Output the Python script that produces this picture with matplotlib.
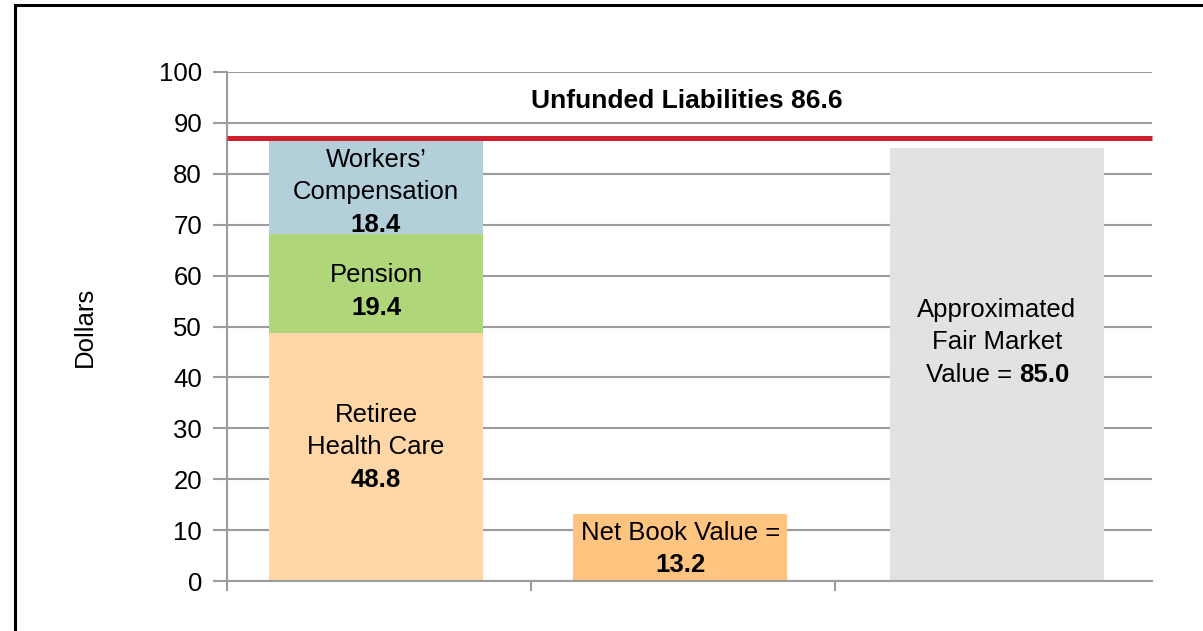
import matplotlib.pyplot as plt
import matplotlib.patches as mpatches
import matplotlib.transforms as mtransforms

plt.rcParams['font.family'] = ['Liberation Sans', 'DejaVu Sans']

# data
retiree = 48.8
pension = 19.4
workers = 18.4
net_book = 13.2
fair_market = 85.0
unfunded = retiree + pension + workers  # 86.6
yticks = [0, 10, 20, 30, 40, 50, 60, 70, 80, 90, 100]

c_retiree = '#FFD7A6'
c_pension = '#B0D67A'
c_workers = '#B3CFDA'
c_netbook = '#FFC480'
c_fair = '#E1E2E4'
c_red = '#D0202E'
c_grid = '#9C9C9F'

fig = plt.figure(figsize=(12.03, 6.31), dpi=100)
ax = fig.add_axes([0.1887, 0.0792, 0.7689, 0.8067])

w = 0.69
ax.bar(0, retiree, w, color=c_retiree, zorder=2)
ax.bar(0, pension, w, bottom=retiree, color=c_pension, zorder=2)
ax.bar(0, workers, w, bottom=retiree + pension, color=c_workers, zorder=2)
ax.bar(0.98, net_book, w, color=c_netbook, zorder=2)
ax.bar(2, fair_market, w, color=c_fair, zorder=2)

ax.set_xlim(-0.48, 2.5)
ax.set_ylim(0, 100)
# red line sits right on top of the stacked bar
up = mtransforms.offset_copy(ax.transData, fig=fig, x=0, y=2.5, units='dots')
ax.plot([-0.48, 2.5], [unfunded, unfunded], color=c_red, lw=3.6, zorder=3,
        transform=up, solid_capstyle='butt', clip_on=False)

ax.set_yticks(yticks)
ax.set_xticks([-0.48, 0.5, 1.48])
ax.set_xticklabels([])
ax.yaxis.grid(True, color=c_grid, lw=1.5, zorder=0)
ax.set_axisbelow(True)
ax.tick_params(axis='y', length=10, width=1.5, color=c_grid, labelsize=18.5, pad=8)
ax.tick_params(axis='x', length=7, width=1.5, color=c_grid)
for s in ['top', 'right']:
    ax.spines[s].set_visible(False)
ax.spines['left'].set_color(c_grid)
ax.spines['left'].set_linewidth(1.5)
ax.spines['bottom'].set_color(c_grid)
ax.spines['bottom'].set_linewidth(1.5)

ax.set_ylabel('Dollars', fontsize=18.5, labelpad=45)

fs = 18.5
ax.text(0, 82.7, "Workers\u2019", ha='center', va='center', fontsize=fs, zorder=4)
ax.text(0, 76.4, 'Compensation', ha='center', va='center', fontsize=fs, zorder=4)
ax.text(0, 69.9, f'{workers:.1f}', ha='center', va='center', fontsize=fs, fontweight='bold', zorder=4)
ax.text(0, 60.1, 'Pension', ha='center', va='center', fontsize=fs, zorder=4)
ax.text(0, 53.6, f'{pension:.1f}', ha='center', va='center', fontsize=fs, fontweight='bold', zorder=4)
ax.text(0, 32.6, 'Retiree', ha='center', va='center', fontsize=fs, zorder=4)
ax.text(0, 26.3, 'Health Care', ha='center', va='center', fontsize=fs, zorder=4)
ax.text(0, 19.8, f'{retiree:.1f}', ha='center', va='center', fontsize=fs, fontweight='bold', zorder=4)

ax.text(0.98, 9.4, 'Net Book Value =', ha='center', va='center', fontsize=fs, zorder=4)
ax.text(0.98, 3.1, f'{net_book:.1f}', ha='center', va='center', fontsize=fs, fontweight='bold', zorder=4)

ax.text(2, 53.2, 'Approximated', ha='center', va='center', fontsize=fs, zorder=4)
ax.text(2, 46.9, 'Fair Market', ha='center', va='center', fontsize=fs, zorder=4)
ax.text(2.072, 40.5, 'Value = ', ha='right', va='center', fontsize=fs, zorder=4)
ax.text(2.072, 40.5, f'{fair_market:.1f}', ha='left', va='center', fontsize=fs, fontweight='bold', zorder=4)

ax.text(1.0, 94.3, f'Unfunded Liabilities {unfunded:.1f}', ha='center', va='center',
        fontsize=19, fontweight='bold', zorder=4)

# outer frame (cropped at right and bottom)
frame = mpatches.Rectangle((15 / 1203, -0.2), 1.2, 1.2 - 5 / 631, transform=fig.transFigure,
                           fill=False, edgecolor='black', lw=2.2, clip_on=False)
fig.patches.append(frame)

fig.savefig('out.png', dpi=100)
